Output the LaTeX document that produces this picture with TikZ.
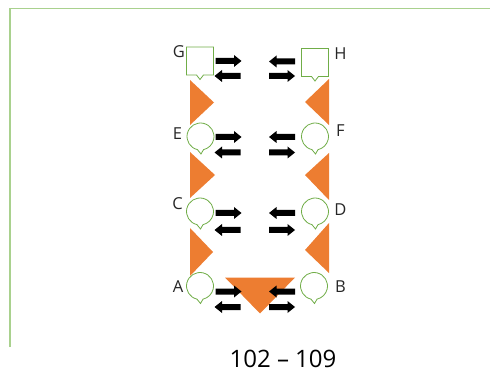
\documentclass[tikz,border=0pt]{standalone}
\usepackage{fontspec}
\setmainfont{Open Sans}
\definecolor{frame}{RGB}{169,209,142}
\definecolor{cgreen}{RGB}{112,173,71}
\definecolor{corange}{RGB}{237,125,49}
\tikzset{
  rarr/.pic={\fill[black] (-13,-3) -- (5.5,-3) -- (5.5,-6) -- (13,0) -- (5.5,6) -- (5.5,3) -- (-13,3) -- cycle;},
  larr/.pic={\fill[black] (13,-3) -- (-5.5,-3) -- (-5.5,-6) -- (-13,0) -- (-5.5,6) -- (-5.5,3) -- (13,3) -- cycle;},
  sqcall/.pic={\draw[cgreen,fill=white,line width=0.8pt] (-13.5,-14) -- (13.5,-14) -- (13.5,14) -- (3.5,14) -- (0,18.5) -- (-3.5,14) -- (-13.5,14) -- cycle;},
  circall/.pic={\draw[cgreen,fill=white,line width=0.8pt] (0,0) ++(103:13.5) arc[start angle=103,end angle=437,radius=13.5] -- (0.5,17.5) -- cycle;},
  lbl/.style={font=\fontsize{16.5}{19}\selectfont,text=black!85,inner sep=0pt},
  tri/.style={fill=corange}
}
\begin{document}
\begin{tikzpicture}[x=1pt,y=-1pt]
\useasboundingbox (0,0) rectangle (490,382);
% frame
\draw[frame,line width=1.4pt] (10,347) -- (10,8.5) -- (490,8.5);
% orange triangles
\fill[tri] (190,80) -- (214,102.5) -- (190,125) -- cycle;
\fill[tri] (190,152) -- (215,175) -- (190,198) -- cycle;
\fill[tri] (190,228) -- (213,252) -- (190,276) -- cycle;
\fill[tri] (329,79) -- (305,102) -- (329,125) -- cycle;
\fill[tri] (329,153) -- (305,175) -- (329,200) -- cycle;
\fill[tri] (329,223) -- (305,250) -- (329,273) -- cycle;
\fill[tri] (225,277.5) -- (295,277.5) -- (260,313.5) -- cycle;
% callouts
\pic at (200,61) {sqcall};
\pic at (315,62.5) {sqcall};
\pic at (200.5,136.5) {circall};
\pic at (315,136.5) {circall};
\pic at (200,211.5) {circall};
\pic at (315,211.5) {circall};
\pic at (200,286) {circall};
\pic at (314,286) {circall};
% labels
\node[lbl] (G) at (179,51.5) {G};
\node[lbl] (H) at (340.5,54) {H};
\node[lbl] (E) at (177.5,134) {E};
\node[lbl] (F) at (340.5,131) {F};
\node[lbl] (C) at (177.5,204) {C};
\node[lbl] (D) at (340.5,209.5) {D};
\node[lbl] (A) at (178,287) {A};
\node[lbl] (B) at (340.5,287) {B};
% arrows
\pic at (228.5,61) {rarr};   \pic at (227.5,76) {larr};
\pic at (282,61.5) {larr};   \pic at (282,76) {rarr};
\pic at (228.5,137) {rarr};  \pic at (227.5,152.5) {larr};
\pic at (282,137) {larr};    \pic at (282,152.5) {rarr};
\pic at (228.5,213) {rarr};  \pic at (227.5,230) {larr};
\pic at (282,213) {larr};    \pic at (282,230) {rarr};
\pic at (228.5,291.5) {rarr};\pic at (227.5,307) {larr};
\pic at (282,291.5) {larr};  \pic at (282,307) {rarr};
% caption
\node[font=\fontsize{24}{28}\selectfont,inner sep=0pt] (cap) at (283,359) {102 – 109};
\end{tikzpicture}
\end{document}
